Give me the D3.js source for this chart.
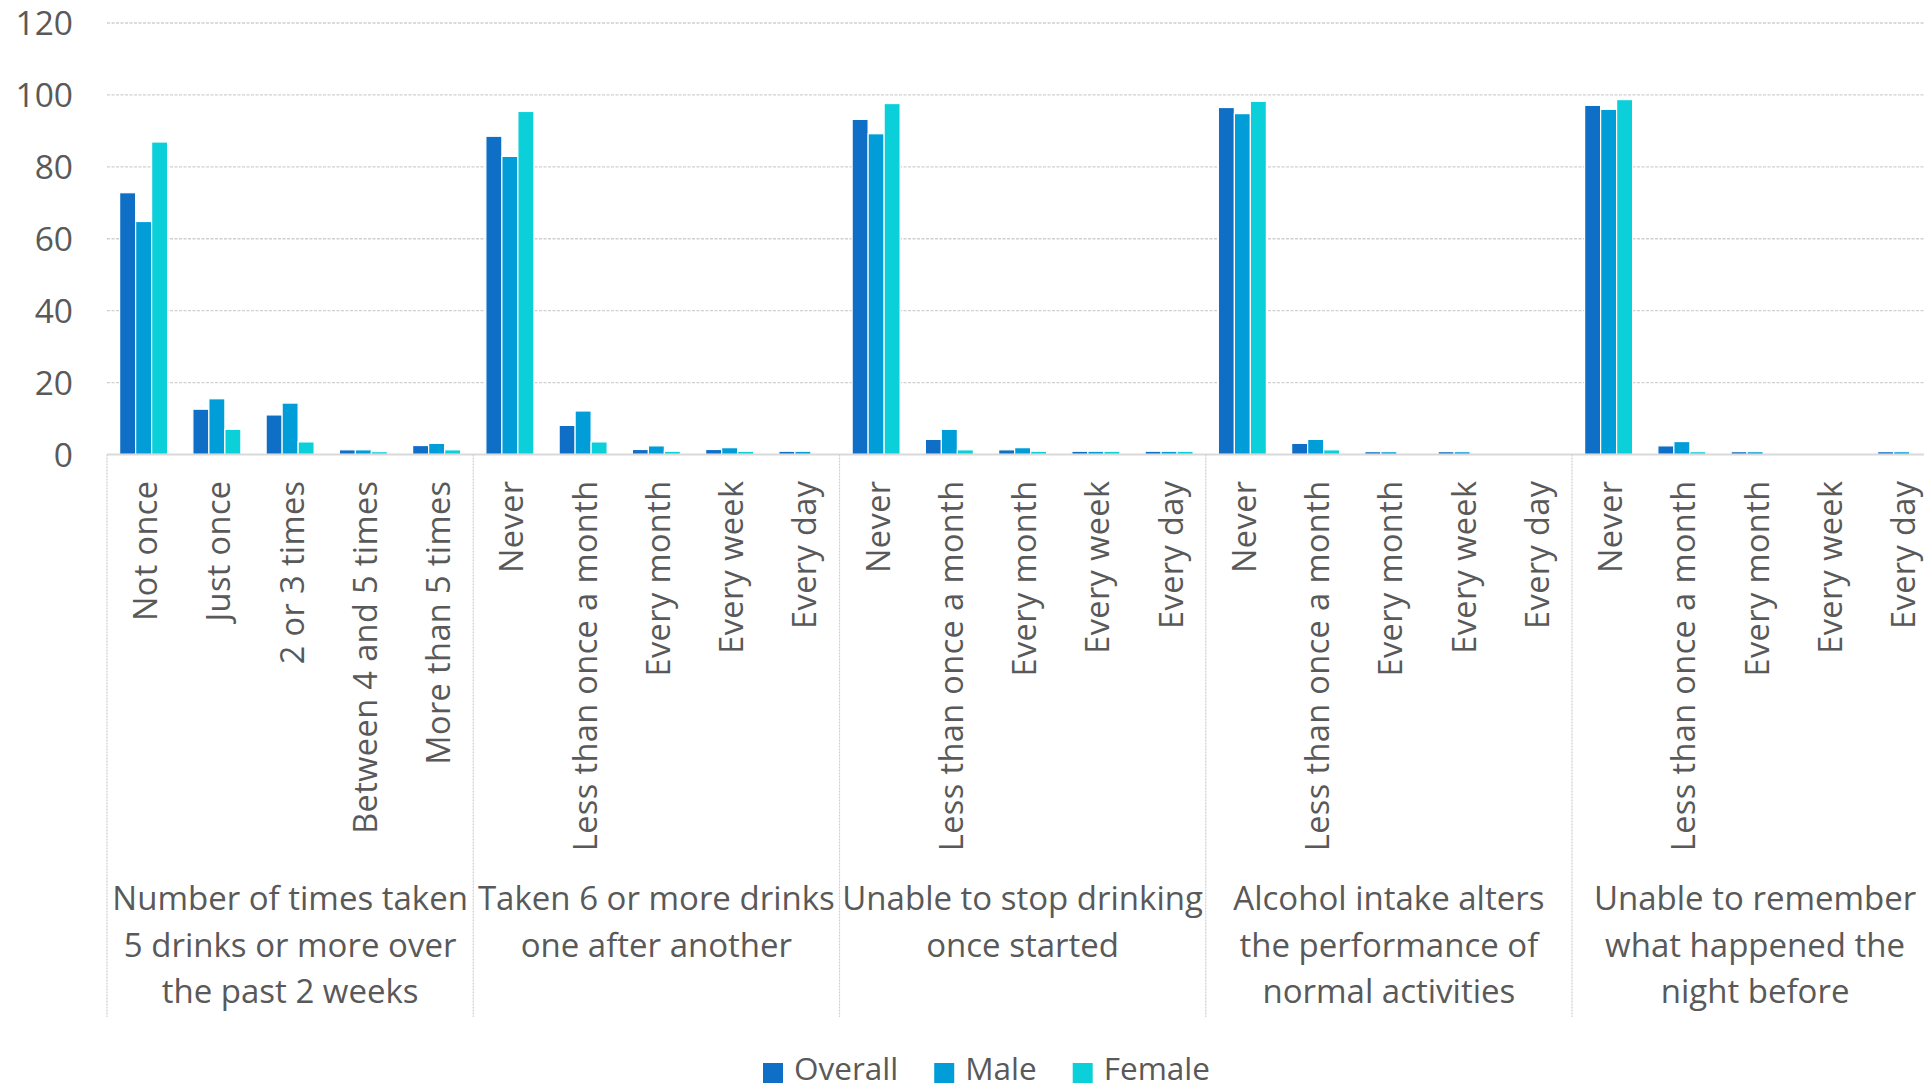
<!DOCTYPE html>
<html>
<head>
<meta charset="utf-8">
<script src="https://cdn.jsdelivr.net/npm/d3@7"></script>
<style>
  html, body { margin: 0; padding: 0; background: #fff; overflow: hidden; }
  svg { display: block; }
  text { font-family: "Open Sans", "Noto Sans", sans-serif; fill: #595959; }
</style>
</head>
<body>
<svg id="chart" width="1924" height="1089"></svg>
<script>
// ---- data ----
const groups = [
  "Number of times taken\n5 drinks or more over\nthe past 2 weeks",
  "Taken 6 or more drinks\none after another",
  "Unable to stop drinking\nonce started",
  "Alcohol intake alters\nthe performance of\nnormal activities",
  "Unable to remember\nwhat happened the\nnight before"
];
const groupCategories = [
  ["Not once", "Just once", "2 or 3 times", "Between 4 and 5 times", "More than 5 times"],
  ["Never", "Less than once a month", "Every month", "Every week", "Every day"],
  ["Never", "Less than once a month", "Every month", "Every week", "Every day"],
  ["Never", "Less than once a month", "Every month", "Every week", "Every day"],
  ["Never", "Less than once a month", "Every month", "Every week", "Every day"]
];
const seriesNames = ["Overall", "Male", "Female"];
const overall = [72.8, 12.6, 11.0, 1.3, 2.5,  88.5, 8.1, 1.4, 1.4, 0.9,  93.2, 4.2, 1.3, 0.9, 0.9,  96.5, 3.1, 0.8, 0.8, 0,  97.1, 2.4, 0.8, 0, 0.8];
const male    = [64.8, 15.5, 14.3, 1.3, 3.1,  82.9, 12.1, 2.4, 1.9, 0.9,  89.2, 7.0, 1.9, 0.9, 0.9,  94.8, 4.2, 0.8, 0.8, 0,  96.0, 3.6, 0.8, 0, 0.8];
const female  = [86.9, 7.0, 3.5, 0.8, 1.3,    95.4, 3.5, 0.9, 0.9, 0,    97.6, 1.3, 0.9, 0.9, 0.9,  98.2, 1.3, 0, 0, 0,      98.7, 0.8, 0, 0, 0];
const yTicks = [0, 20, 40, 60, 80, 100, 120];
const colors = ["#0F6FC6", "#009DD9", "#0BD0D9"];

// ---- build table ----
const rows = [];
groupCategories.forEach((cats, gi) => cats.forEach((c, ci) => rows.push({ key: gi + "|" + ci, group: gi, label: c })));
const seriesValues = [overall, male, female];

const svg = d3.select("#chart");
const plotLeft = 107, catW = 73.25;
const plotRight = plotLeft + rows.length * catW;
const plotTop = 23, plotBottom = 454.5;

const x = d3.scaleBand().domain(rows.map(r => r.key)).range([plotLeft, plotRight]).padding(0);
const xs = d3.scaleBand().domain(seriesNames).range([0, 48]).padding(0);
const y = d3.scaleLinear().domain([0, 120]).range([plotBottom, plotTop]);

// gridlines
svg.append("g").selectAll("line").data(yTicks.filter(t => t > 0)).join("line")
  .attr("x1", plotLeft).attr("x2", plotRight)
  .attr("y1", d => y(d)).attr("y2", d => y(d))
  .attr("stroke", "#d0d0d0").attr("stroke-width", 1.3).attr("stroke-dasharray", "3,1.5");

// y axis labels
const yAxis = d3.axisLeft(y).tickValues(yTicks).tickSize(0).tickPadding(0);
const yg = svg.append("g").attr("transform", `translate(${plotLeft - 34},0)`).call(yAxis);
yg.select(".domain").remove();
yg.selectAll("text").attr("font-size", 33.5).attr("font-family", "Open Sans").attr("fill", "#595959").attr("dy", "0.35em");

// bars
seriesNames.forEach((s, si) => {
  svg.append("g").selectAll("rect").data(rows.map((r, i) => ({ r, v: seriesValues[si][i] })).filter(d => d.v > 0)).join("rect")
    .attr("x", d => x(d.r.key) + x.bandwidth() / 2 - 24 + xs(s))
    .attr("width", xs.bandwidth())
    .attr("y", d => y(d.v))
    .attr("height", d => y(0) - y(d.v))
    .attr("fill", colors[si])
    .attr("stroke", "#fff").attr("stroke-width", 1.2);
});

// x axis line
svg.append("line").attr("x1", plotLeft).attr("x2", plotRight).attr("y1", y(0)).attr("y2", y(0))
  .attr("stroke", "#d9d9d9").attr("stroke-width", 2);

// group separators
const sepX = groups.map((g, gi) => x(gi + "|0")).concat([plotRight]);
svg.append("g").selectAll("line").data(sepX).join("line")
  .attr("x1", d => d).attr("x2", d => d).attr("y1", y(0)).attr("y2", 1017)
  .attr("stroke", "#cfcfcf").attr("stroke-width", 1.2).attr("stroke-dasharray", "2,1");

// category labels (rotated)
svg.append("g").selectAll("text").data(rows).join("text")
  .attr("transform", d => `translate(${x(d.key) + x.bandwidth() / 2 + 2},${y(0) + 26}) rotate(-90)`)
  .attr("text-anchor", "end").attr("dy", "0.35em")
  .attr("font-size", 32.5).attr("letter-spacing", 0.4)
  .text(d => d.label);

// group labels
const gl = svg.append("g").selectAll("text").data(groups).join("text")
  .attr("text-anchor", "middle").attr("font-size", 33)
  .attr("x", (d, gi) => (sepX[gi] + sepX[gi + 1]) / 2)
  .attr("y", 910);
gl.selectAll("tspan").data(d => d.split("\n")).join("tspan")
  .attr("x", function() { return d3.select(this.parentNode).attr("x"); })
  .attr("dy", (d, i) => i === 0 ? 0 : 46.5)
  .text(d => d);

// legend
const lg = svg.append("g");
let lx = 763;
seriesNames.forEach((s, si) => {
  lg.append("rect").attr("x", lx).attr("y", 1063).attr("width", 20).attr("height", 20).attr("fill", colors[si]);
  const t = lg.append("text").attr("x", lx + 31).attr("y", 1080).attr("font-size", 31.5).text(s);
  lx += 31 + t.node().getComputedTextLength() + 36;
});
</script>
</body>
</html>
